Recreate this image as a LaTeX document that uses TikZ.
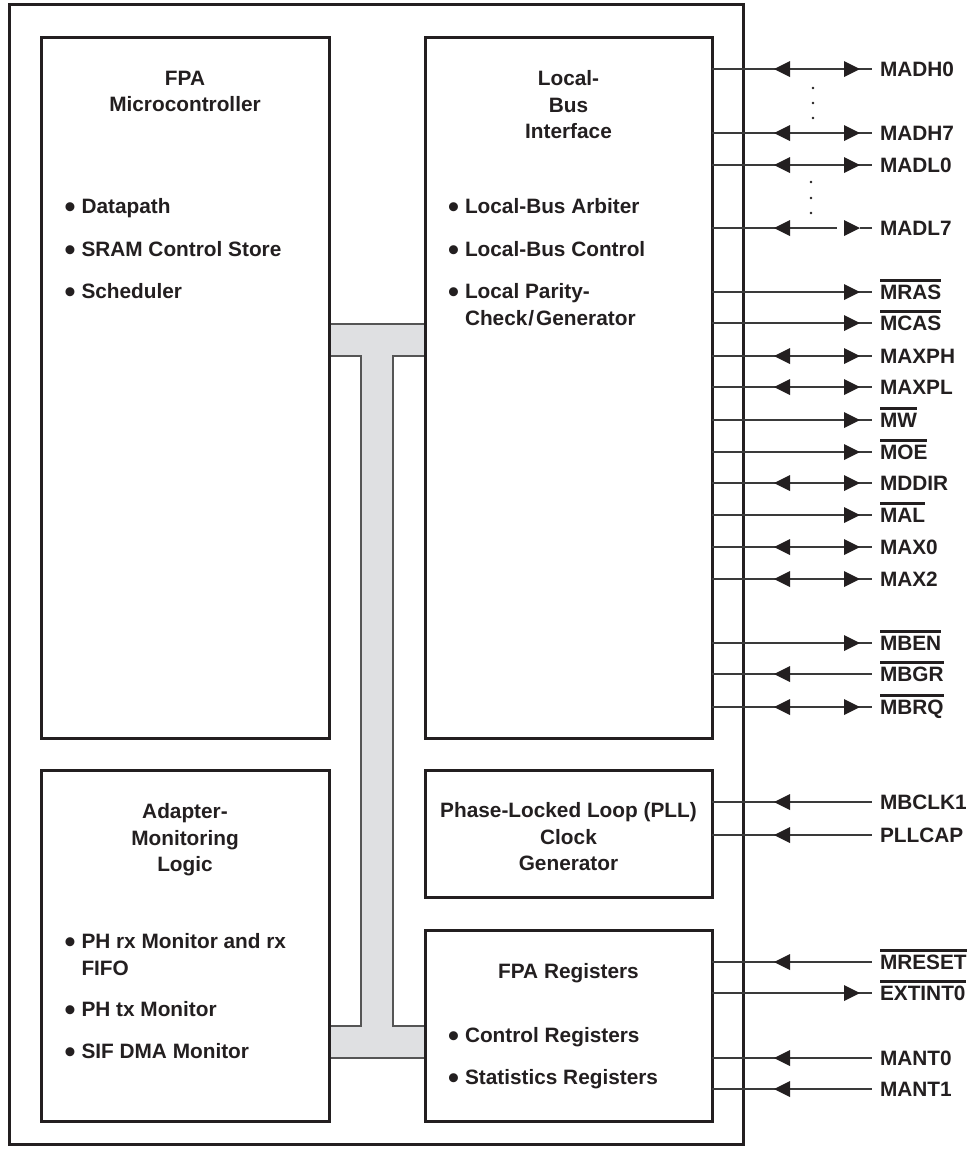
\documentclass[tikz,border=0pt]{standalone}
\usepackage{fontspec}
\usepackage{graphicx}
\setmainfont{Liberation Sans}

\definecolor{ink}{HTML}{231F20}
\definecolor{wiregray}{HTML}{3A3A3A}
\definecolor{busgray}{HTML}{DFE0E2}
\definecolor{busline}{HTML}{555555}

% active-low signal name: bar over the text
\newsavebox\sigbox
\newcommand\activelow[1]{\sbox\sigbox{#1}\rlap{\raisebox{\dimexpr\ht\sigbox+3pt\relax}{\color{ink}\rule{\wd\sigbox}{2.5pt}}}\usebox\sigbox}
% list bullet with fixed indent
\newcommand\bul{\makebox[17pt][l]{\raisebox{-3.7pt}{\scalebox{1.5}{\textbullet}}}}

\tikzset{
  txt/.style={font=\bfseries\fontsize{20.8}{26.3}\selectfont, text=ink, inner sep=0pt, outer sep=0pt},
  blocktitle/.style={txt, align=center, anchor=north},
  bulletitem/.style={txt, align=left, anchor=north west},
  sigtext/.style={txt, anchor=west, inner xsep=8pt, inner ysep=0pt, text height=14.3pt, text depth=0pt},
  block/.style={draw=ink, line width=3pt, rectangle, inner sep=0pt, outer sep=0pt},
  wire/.style={draw=wiregray, line width=1.3pt},
  busedge/.style={draw=busline, line width=1.2pt},
  intip/.pic={\fill[ink] (0,0) -- (16,-8) -- (16,8) -- cycle;},
  outtip/.pic={\fill[ink] (0,0) -- (-16,-8) -- (-16,8) -- cycle;},
}

\begin{document}
\begin{tikzpicture}[x=1pt,y=-1pt]
\fill[white] (0,0) rectangle (968,1152);
\useasboundingbox (0,0) rectangle (968,1152);

% internal bus between the blocks
\fill[busgray] (329,324) -- (425,324) -- (425,356) -- (393,356) -- (393,1026)
  -- (425,1026) -- (425,1058) -- (329,1058) -- (329,1026) -- (361,1026)
  -- (361,356) -- (329,356) -- cycle;
\draw[busedge] (329,324) -- (425,324);
\draw[busedge] (329,356) -- (361,356) -- (361,1026) -- (329,1026);
\draw[busedge] (425,356) -- (393,356) -- (393,1026) -- (425,1026);
\draw[busedge] (329,1058) -- (425,1058);

% chip outline and functional blocks
\node[block, minimum width=734pt, minimum height=1140pt] (chip) at (376,574) {};
\node[block, minimum width=288pt, minimum height=701pt] (fpa) at (185,387.5) {};
\node[block, minimum width=287pt, minimum height=701pt] (lbi) at (568.5,387.5) {};
\node[block, minimum width=288pt, minimum height=351pt] (aml) at (185,945.5) {};
\node[block, minimum width=287pt, minimum height=127pt] (pll) at (568.5,833.5) {};
\node[block, minimum width=287pt, minimum height=191pt] (reg) at (568.5,1025.5) {};

% block titles
\node[blocktitle] (fpaT) at (185,70.7) {FPA\\Microcontroller};
\node[blocktitle] (lbiT) at (568.5,70.7) {Local-\\Bus\\Interface};
\node[blocktitle] (amlT) at (185,803.7) {Adapter-\\Monitoring\\Logic};
\node[blocktitle] (pllT) at (568.5,802.7) {Phase-Locked Loop (PLL)\\Clock\\Generator};
\node[blocktitle] (regT) at (568.5,963.7) {FPA Registers};

% block contents
\node[bulletitem] (fpa1) at (64.5,198.7) {\bul Datapath};
\node[bulletitem] (fpa2) at (64.5,241.7) {\bul SRAM Control Store};
\node[bulletitem] (fpa3) at (64.5,283.7) {\bul Scheduler};

\node[bulletitem] (lbi1) at (448,198.7) {\bul Local-Bus Arbiter};
\node[bulletitem] (lbi2) at (448,241.7) {\bul Local-Bus Control};
\node[bulletitem] (lbi3) at (448,283.7) {\bul Local Parity-\\\hspace*{17pt}Check\kern1pt/\kern2pt Generator};

\node[bulletitem] (aml1) at (64.5,933.7) {\bul PH rx Monitor and rx\\\hspace*{17pt}FIFO};
\node[bulletitem] (aml2) at (64.5,1001.7) {\bul PH tx Monitor};
\node[bulletitem] (aml3) at (64.5,1043.7) {\bul SIF DMA Monitor};

\node[bulletitem] (reg1) at (448,1027.7) {\bul Control Registers};
\node[bulletitem] (reg2) at (448,1069.7) {\bul Statistics Registers};

% external signal names
\foreach \n/\y/\t in {
  madh0/69/MADH0, madh7/133/MADH7, madl0/165/MADL0, madl7/228/MADL7,
  mras/292/\activelow{MRAS}, mcas/323/\activelow{MCAS}, maxph/356/MAXPH,
  maxpl/387/MAXPL, mw/420/\activelow{MW}, moe/452/\activelow{MOE},
  mddir/483/MDDIR, mal/515/\activelow{MAL}, max0/547/MAX0, max2/579/MAX2,
  mben/643/\activelow{MBEN}, mbgr/674/\activelow{MBGR}, mbrq/707/\activelow{MBRQ},
  mbclk1/802/MBCLK1, pllcap/835/PLLCAP, mreset/962/\activelow{MRESET},
  extint0/993/\activelow{EXTINT0}, mant0/1058/MANT0, mant1/1089/MANT1}
  \node[sigtext] (\n) at (872,\y) {\t};

% signal wires from the blocks to the pins
\foreach \b/\n in {
  lbi/madh0, lbi/madh7, lbi/madl0, lbi/mras, lbi/mcas, lbi/maxph, lbi/maxpl,
  lbi/mw, lbi/moe, lbi/mddir, lbi/mal, lbi/max0, lbi/max2, lbi/mben,
  lbi/mbgr, lbi/mbrq, pll/mbclk1, pll/pllcap, reg/mreset, reg/extint0,
  reg/mant0, reg/mant1}
  \draw[wire] (\b.east |- \n.west) -- (\n.west);
\draw[wire] (lbi.east |- madl7.west) -- ++(125,0);
\draw[wire] (madl7.west) -- ++(-12,0);

% direction arrowheads
\foreach \n in {madh0, madh7, madl0, madl7, maxph, maxpl, mddir, max0, max2,
  mbgr, mbrq, mbclk1, pllcap, mreset, mant0, mant1}
  \path (\n.west) ++(-98,0) pic {intip};
\foreach \n in {madh0, madh7, madl0, madl7, mras, mcas, maxph, maxpl, mw, moe,
  mddir, mal, max0, max2, mben, mbrq, extint0}
  \path (\n.west) ++(-12,0) pic {outtip};

% continuation dots of the address/data buses
\foreach \y in {88,103,118} \fill[ink] (813,\y) circle[radius=1.4pt];
\foreach \y in {182,198,213} \fill[ink] (811,\y) circle[radius=1.4pt];
\end{tikzpicture}
\end{document}
